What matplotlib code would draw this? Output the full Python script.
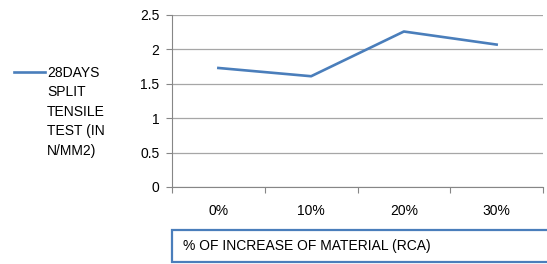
import matplotlib
matplotlib.use("Agg")
import matplotlib.pyplot as plt
from matplotlib.lines import Line2D
from matplotlib.patches import Rectangle

categories = ["0%", "10%", "20%", "30%"]
tensile = [1.73, 1.61, 2.26, 2.07]
series_label = "28DAYS\nSPLIT\nTENSILE\nTEST (IN\nN/MM2)"
x_title = "% OF INCREASE OF MATERIAL (RCA)"
y_ticks = [0, 0.5, 1, 1.5, 2, 2.5]
y_tick_labels = ["0", "0.5", "1", "1.5", "2", "2.5"]

plt.rcParams["font.family"] = ["Liberation Sans", "DejaVu Sans"]
plt.rcParams["font.size"] = 10

W, H = 547, 264
fig = plt.figure(figsize=(W / 100, H / 100), dpi=100)
ax = fig.add_axes([172 / W, 1 - 187 / H, 371 / W, 172 / H])

xs = list(range(len(categories)))
line, = ax.plot(xs, tensile, color="#4A7EBB", linewidth=1.9)

# axes
ax.set_xlim(-0.5, len(categories) - 0.5)
ax.set_ylim(0, 2.5)
ax.set_yticks(y_ticks)
ax.set_yticklabels(y_tick_labels)
ax.set_xticks(xs)
ax.set_xticklabels(categories)
ax.set_xticks([i - 0.5 for i in range(len(categories) + 1)], minor=True)
ax.tick_params(axis="x", which="major", length=0, pad=12)
ax.tick_params(axis="x", which="minor", length=4, color="#868686", width=0.8)
ax.tick_params(axis="y", length=4, color="#868686", width=0.8, pad=5)
ax.yaxis.grid(True, color="#A6A6A6", linewidth=0.9)
ax.set_axisbelow(True)
for s in ["top", "right"]:
    ax.spines[s].set_visible(False)
for s in ["left", "bottom"]:
    ax.spines[s].set_color("#868686")
    ax.spines[s].set_linewidth(0.8)

# legend on the left (handle sits beside the first text line)
fig.add_artist(Line2D([14 / W, 45 / W], [1 - 72 / H, 1 - 72 / H],
                      transform=fig.transFigure, color=line.get_color(),
                      linewidth=line.get_linewidth()))
fig.text(47 / W, 1 - 66 / H, series_label, ha="left", va="top",
         fontsize=10, linespacing=1.5)

# axis title in a box
box = Rectangle((172 / W, 1 - 262 / H), 380 / W, 32 / H, transform=fig.transFigure,
                facecolor="white", edgecolor="#4A7EBB", linewidth=1.6, clip_on=False)
fig.add_artist(box)
fig.text(183 / W, 1 - 246 / H, x_title, ha="left", va="center", fontsize=10)

fig.savefig("out.png", dpi=100)
